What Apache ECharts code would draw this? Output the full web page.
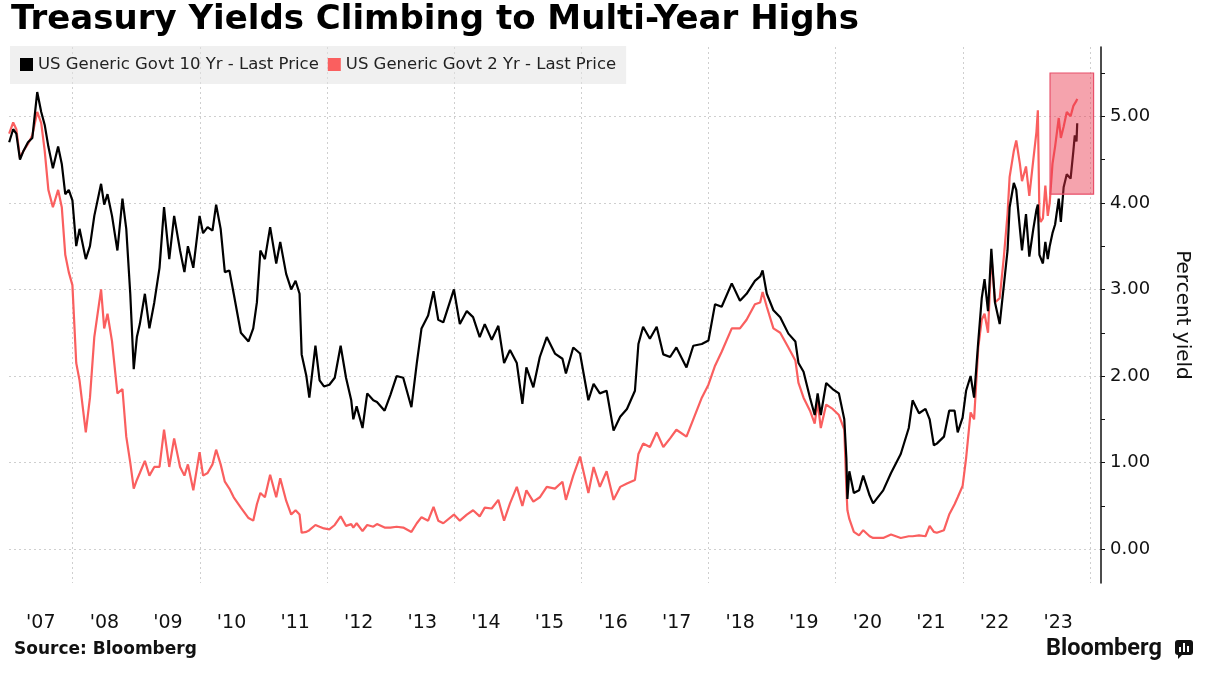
<!DOCTYPE html>
<html>
<head>
<meta charset="utf-8">
<title>Treasury Yields Climbing to Multi-Year Highs</title>
<script src="https://cdn.jsdelivr.net/npm/echarts@6/dist/echarts.min.js"></script>
<style>
  html, body { margin: 0; padding: 0; background: #fff; }
  #myChart { width: 1208px; height: 678px; }
</style>
</head>
<body>
<div id="myChart"></div>
<script>
// observation dates (roughly monthly, extra points around sharp moves)
var dates = [
  '2007-01-02','2007-01-25','2007-02-12','2007-03-05','2007-03-25','2007-04-20','2007-05-15','2007-06-12','2007-07-05','2007-07-25',
  '2007-08-15','2007-09-10','2007-10-10','2007-10-31','2007-11-20','2007-12-10','2007-12-31','2008-01-22','2008-02-10','2008-03-17',
  '2008-04-10','2008-05-05','2008-06-13','2008-07-01','2008-07-20','2008-08-15','2008-09-15','2008-10-14','2008-11-05','2008-11-28',
  '2008-12-18','2009-01-05','2009-01-22','2009-02-20','2009-03-18','2009-04-15','2009-05-15','2009-06-10','2009-07-10','2009-08-07',
  '2009-09-10','2009-10-05','2009-10-25','2009-11-25','2009-12-31','2010-01-20','2010-02-15','2010-03-15','2010-04-05','2010-05-01',
  '2010-05-25','2010-06-20','2010-07-15','2010-08-25','2010-10-08','2010-11-04','2010-11-25','2010-12-15','2011-01-10','2011-02-09',
  '2011-03-16','2011-04-08','2011-05-12','2011-06-10','2011-07-05','2011-07-28','2011-08-09','2011-09-05','2011-09-22','2011-10-27',
  '2011-11-20','2011-12-15','2012-01-15','2012-02-15','2012-03-20','2012-04-20','2012-05-20','2012-06-01','2012-06-20','2012-07-24',
  '2012-08-20','2012-09-24','2012-10-15','2012-11-28','2012-12-31','2013-02-05','2013-03-15','2013-05-01','2013-06-01','2013-06-28',
  '2013-08-05','2013-09-05','2013-10-02','2013-10-31','2013-12-31','2014-02-03','2014-03-15','2014-04-20','2014-05-28','2014-06-26',
  '2014-08-05','2014-09-12','2014-10-15','2014-11-18','2014-12-27','2015-01-28','2015-02-20','2015-04-01','2015-05-08','2015-06-17',
  '2015-08-03','2015-09-15','2015-10-05','2015-11-16','2015-12-25','2016-02-11','2016-03-12','2016-04-17','2016-05-26','2016-07-05',
  '2016-08-12','2016-09-20','2016-11-05','2016-11-25','2016-12-22','2017-01-30','2017-03-10','2017-04-17','2017-05-26','2017-07-01',
  '2017-08-28','2017-10-06','2017-11-24','2018-01-01','2018-02-08','2018-03-18','2018-05-15','2018-07-01','2018-08-08','2018-09-25',
  '2018-10-25','2018-11-08','2018-12-02','2019-01-09','2019-02-17','2019-04-05','2019-05-15','2019-06-02','2019-07-01','2019-08-07',
  '2019-09-03','2019-09-20','2019-10-08','2019-11-08','2019-12-15','2020-01-20','2020-02-20','2020-03-03','2020-03-09','2020-03-20',
  '2020-04-15','2020-05-15','2020-06-08','2020-07-15','2020-08-04','2020-10-01','2020-11-15','2021-01-10','2021-02-25','2021-03-19',
  '2021-04-25','2021-06-01','2021-06-25','2021-07-19','2021-08-05','2021-09-15','2021-10-15','2021-11-15','2021-12-03','2021-12-31',
  '2022-01-20','2022-02-15','2022-03-07','2022-03-31','2022-04-20','2022-05-06','2022-05-26','2022-06-14','2022-07-05','2022-08-01',
  '2022-08-25','2022-09-15','2022-09-27','2022-10-21','2022-11-04','2022-11-25','2022-12-07','2022-12-30','2023-01-18','2023-02-10',
  '2023-02-28','2023-03-08','2023-03-17','2023-03-24','2023-04-06','2023-04-20','2023-05-04','2023-05-15','2023-05-31','2023-06-15',
  '2023-07-06','2023-07-18','2023-08-03','2023-08-21','2023-09-12','2023-09-28','2023-10-06','2023-10-16','2023-10-20'
];

// US Generic Govt 10 Yr - Last Price
var tenYear = [
  4.70,4.85,4.80,4.50,4.60,4.70,4.75,5.28,5.05,4.90,
  4.65,4.40,4.65,4.45,4.10,4.15,4.03,3.50,3.70,3.35,
  3.50,3.85,4.22,3.98,4.10,3.85,3.45,4.05,3.70,2.95,
  2.08,2.45,2.60,2.95,2.55,2.85,3.25,3.95,3.35,3.85,
  3.45,3.20,3.50,3.25,3.85,3.65,3.72,3.68,3.98,3.70,
  3.20,3.22,2.95,2.50,2.40,2.55,2.85,3.45,3.35,3.72,
  3.30,3.55,3.18,3.00,3.10,2.95,2.25,2.00,1.75,2.35,
  1.95,1.88,1.90,1.98,2.35,1.98,1.72,1.50,1.65,1.40,
  1.80,1.72,1.70,1.60,1.78,2.00,1.98,1.64,2.15,2.55,
  2.70,2.98,2.65,2.62,3.00,2.60,2.75,2.68,2.45,2.60,
  2.42,2.58,2.15,2.30,2.15,1.68,2.10,1.87,2.22,2.45,
  2.26,2.20,2.03,2.33,2.26,1.72,1.91,1.80,1.83,1.37,
  1.53,1.62,1.83,2.37,2.57,2.43,2.57,2.25,2.22,2.33,
  2.10,2.35,2.37,2.41,2.83,2.80,3.07,2.87,2.95,3.10,
  3.15,3.22,2.95,2.76,2.68,2.49,2.40,2.15,2.05,1.75,
  1.55,1.80,1.55,1.92,1.85,1.80,1.50,1.05,0.58,0.90,
  0.65,0.68,0.85,0.62,0.53,0.68,0.88,1.10,1.40,1.72,
  1.57,1.62,1.50,1.20,1.22,1.30,1.60,1.60,1.35,1.52,
  1.83,2.00,1.75,2.40,2.90,3.12,2.75,3.47,2.85,2.60,
  3.05,3.45,3.95,4.23,4.15,3.70,3.45,3.87,3.38,3.70,
  3.92,3.98,3.40,3.38,3.30,3.55,3.35,3.50,3.65,3.75,
  4.05,3.78,4.18,4.33,4.28,4.60,4.78,4.71,4.92
];

// US Generic Govt 2 Yr - Last Price
var twoYear = [
  4.80,4.93,4.85,4.52,4.60,4.68,4.78,5.05,4.92,4.60,
  4.15,3.95,4.15,3.95,3.40,3.20,3.05,2.15,1.95,1.35,
  1.75,2.45,3.00,2.55,2.72,2.40,1.80,1.85,1.30,1.00,
  0.70,0.80,0.88,1.02,0.85,0.95,0.95,1.38,0.95,1.28,
  0.95,0.85,0.98,0.68,1.12,0.85,0.88,0.98,1.15,0.98,
  0.78,0.70,0.60,0.48,0.36,0.33,0.52,0.65,0.60,0.86,
  0.60,0.82,0.56,0.40,0.45,0.40,0.19,0.20,0.22,0.28,
  0.26,0.24,0.23,0.28,0.38,0.27,0.29,0.25,0.30,0.21,
  0.28,0.26,0.29,0.25,0.25,0.26,0.25,0.20,0.30,0.37,
  0.33,0.49,0.33,0.30,0.40,0.33,0.40,0.45,0.38,0.48,
  0.47,0.57,0.33,0.53,0.72,0.50,0.68,0.55,0.60,0.72,
  0.70,0.78,0.57,0.85,1.07,0.65,0.95,0.72,0.90,0.57,
  0.72,0.76,0.80,1.10,1.22,1.18,1.35,1.18,1.28,1.38,
  1.30,1.50,1.75,1.90,2.12,2.28,2.55,2.55,2.65,2.83,
  2.85,2.97,2.80,2.55,2.50,2.33,2.18,1.92,1.75,1.60,
  1.45,1.70,1.40,1.67,1.62,1.55,1.38,0.70,0.45,0.35,
  0.20,0.16,0.22,0.15,0.13,0.13,0.17,0.13,0.15,0.15,
  0.16,0.15,0.27,0.20,0.19,0.22,0.40,0.52,0.60,0.73,
  1.05,1.58,1.50,2.33,2.65,2.72,2.50,3.40,2.85,2.90,
  3.38,3.87,4.30,4.60,4.72,4.45,4.25,4.42,4.08,4.50,
  4.82,5.07,3.85,3.78,3.82,4.20,3.85,4.00,4.45,4.65,
  4.98,4.75,4.88,5.05,5.00,5.12,5.10,5.18,5.20
];

var labelYears = [2007,2008,2009,2010,2011,2012,2013,2014,2015,2016,2017,2018,2019,2020,2021,2022,2023];
var gridYears = [2008,2010,2012,2014,2016,2018,2020,2022,2024];
var yLabelValues = [0,1,2,3,4,5];
var yTickValues = [0,0.5,1,1.5,2,2.5,3,3.5,4,4.5,5,5.5];
// highlighted box: [start date, end date, low yield, high yield]
var highlight = ['2023-05-17','2024-01-22',4.1,5.5];

var myChart = echarts.init(document.getElementById('myChart'));

// date string -> fractional year, so the x axis is a plain value axis
function toYear(s){
  var p = s.split('-');
  var y = +p[0];
  var start = Date.UTC(y, 0, 1), end = Date.UTC(y + 1, 0, 1);
  return y + (Date.UTC(y, +p[1] - 1, +p[2]) - start) / (end - start);
}

var font = 'DejaVu Sans';
var gridLine = { color: '#cfcfcf', type: [2, 3], width: 1 };

option = {
  animation: false,
  backgroundColor: '#fff',
  title: {
    text: 'Treasury Yields Climbing to Multi-Year Highs',
    left: 6,
    top: -2,
    textStyle: { fontFamily: font, fontWeight: 'bold', fontSize: 34, color: '#000' }
  },
  legend: {
    left: 10,
    top: 46,
    padding: [10, 10, 11, 10],
    itemGap: 9,
    itemWidth: 13,
    itemHeight: 13,
    icon: 'rect',
    backgroundColor: 'rgba(228,228,228,0.55)',
    textStyle: { fontFamily: font, fontSize: 16.5, color: '#222' },
    data: ['US Generic Govt 10 Yr - Last Price', 'US Generic Govt 2 Yr - Last Price']
  },
  grid: { left: 9, right: 107, top: 47, bottom: 95 },
  xAxis: {
    type: 'value',
    min: 2007,
    max: 2024.174,
    axisLine: { show: false },
    axisTick: { show: false, customValues: gridYears },
    splitLine: { show: true, lineStyle: gridLine },
    axisLabel: {
      customValues: labelYears.map(function(y){ return y + 0.5; }),
      margin: 31,
      fontFamily: font,
      fontSize: 19,
      color: '#111',
      formatter: function(v){ return "'" + String(Math.floor(v)).slice(2); }
    }
  },
  yAxis: [
    {
      type: 'value',
      position: 'right',
      min: -0.39,
      max: 5.8,
      axisLine: { show: true, lineStyle: { color: '#111', width: 1.5 } },
      axisTick: { show: true, inside: false, length: 4, customValues: yTickValues, lineStyle: { color: '#111' } },
      axisLabel: {
        customValues: yLabelValues,
        margin: 9,
        fontFamily: font,
        fontSize: 18,
        color: '#111',
        formatter: function(v){ return v.toFixed(2); }
      },
      splitLine: { show: false }
    },
    {
      type: 'value',
      position: 'right',
      min: -0.39,
      max: 5.8,
      axisLine: { show: false },
      axisTick: { show: false, customValues: yLabelValues },
      axisLabel: { show: false },
      splitLine: { show: true, lineStyle: gridLine }
    }
  ],
  series: [
    {
      name: 'US Generic Govt 2 Yr - Last Price',
      type: 'line',
      yAxisIndex: 0,
      showSymbol: false,
      symbol: 'none',
      z: 2,
      color: '#fa5f5f',
      lineStyle: { color: '#fa5f5f', width: 2.2 },
      data: dates.map(function(d, i){ return [toYear(d), twoYear[i]]; })
    },
    {
      name: 'US Generic Govt 10 Yr - Last Price',
      type: 'line',
      yAxisIndex: 0,
      showSymbol: false,
      symbol: 'none',
      z: 3,
      color: '#000',
      lineStyle: { color: '#000', width: 2.2 },
      data: dates.map(function(d, i){ return [toYear(d), tenYear[i]]; })
    },
    {
      // empty carrier series so the highlight box sits above both lines
      name: 'highlight',
      type: 'line',
      yAxisIndex: 0,
      z: 10,
      data: [],
      markArea: {
        silent: true,
        z: 10,
        itemStyle: { color: 'rgba(233,50,73,0.45)', borderColor: '#e8506a', borderWidth: 1.2 },
        data: [[
          { xAxis: toYear(highlight[0]), yAxis: highlight[3] },
          { xAxis: toYear(highlight[1]), yAxis: highlight[2] }
        ]]
      }
    }
  ],
  graphic: [
    {
      type: 'text',
      x: 1182, y: 315,
      rotation: -Math.PI / 2,
      style: { text: 'Percent yield', fontFamily: font, fontSize: 20, fill: '#111', align: 'center', verticalAlign: 'middle' }
    },
    {
      type: 'text',
      x: 14, y: 650,
      style: { text: 'Source: Bloomberg', fontFamily: font, fontWeight: 'bold', fontSize: 17, fill: '#111', verticalAlign: 'middle' }
    },
    {
      type: 'text',
      x: 1046, y: 649,
      style: { text: 'Bloomberg', fontFamily: 'Roboto', fontWeight: 'bold', fontSize: 23.5, fill: '#111', verticalAlign: 'middle' }
    },
    {
      type: 'group',
      x: 1175, y: 640,
      children: [
        { type: 'rect', shape: { x: 0, y: 0, width: 18, height: 15, r: 3 }, style: { fill: '#111' } },
        { type: 'polygon', shape: { points: [[3, 14], [8, 14], [3, 19]] }, style: { fill: '#111' } },
        { type: 'rect', shape: { x: 4, y: 7, width: 2, height: 5 }, style: { fill: '#fff' } },
        { type: 'rect', shape: { x: 8, y: 3, width: 2, height: 9 }, style: { fill: '#fff' } },
        { type: 'rect', shape: { x: 12, y: 6, width: 2, height: 6 }, style: { fill: '#fff' } }
      ]
    }
  ]
};
myChart.setOption(option);
</script>
</body>
</html>
